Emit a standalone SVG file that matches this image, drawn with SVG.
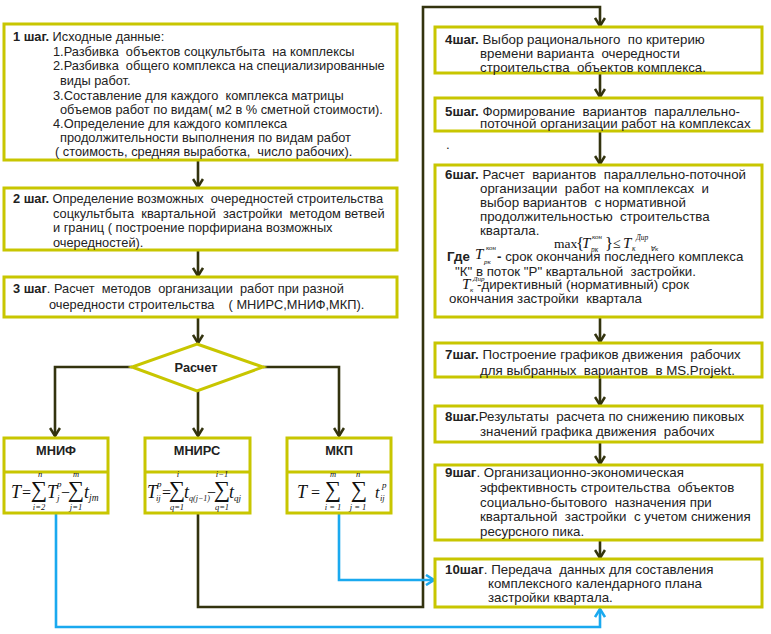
<svg xmlns="http://www.w3.org/2000/svg" width="771" height="634" viewBox="0 0 771 634">
<defs>
<style>
.box{fill:#fff;stroke:#c8c600;stroke-width:3}
.t{font-family:"Liberation Sans",Arial,sans-serif;font-size:12.8px;fill:#222;white-space:pre}
.r{font-size:13.3px}
.b{font-weight:bold}
.f{font-family:"Liberation Serif","Times New Roman",serif;fill:#111;font-style:italic}
.fs{font-family:"Liberation Serif","Times New Roman",serif;fill:#111}
.sum{font-family:"Liberation Serif","Times New Roman",serif;fill:#111;font-size:23px;text-anchor:middle}
.lim{font-family:"Liberation Serif","Times New Roman",serif;fill:#111;font-style:italic;font-size:8.5px;text-anchor:middle}
.dk{fill:none;stroke:#33330f;stroke-width:2.6}
.bl{fill:none;stroke:#1aa9ef;stroke-width:2.6}
</style>
<marker id="ad" viewBox="0 0 12 12" refX="10" refY="6" markerWidth="12" markerHeight="12" markerUnits="userSpaceOnUse" orient="auto">
<path d="M2,1 L10,6 L2,11" fill="none" stroke="#33330f" stroke-width="2.6"/>
</marker>
<marker id="ab" viewBox="0 0 12 12" refX="10" refY="6" markerWidth="12" markerHeight="12" markerUnits="userSpaceOnUse" orient="auto">
<path d="M2,1 L10,6 L2,11" fill="none" stroke="#1aa9ef" stroke-width="2.6"/>
</marker>
</defs>
<rect width="771" height="634" fill="#fff"/>

<g id="connectors">
<line class="dk" x1="198" y1="160" x2="198" y2="187" marker-end="url(#ad)"/>
<line class="dk" x1="198" y1="250" x2="198" y2="276" marker-end="url(#ad)"/>
<line class="dk" x1="198" y1="317" x2="198" y2="343" marker-end="url(#ad)"/>
<polyline class="dk" points="132,367 55,367 55,436" marker-end="url(#ad)"/>
<line class="dk" x1="198" y1="391" x2="198" y2="436" marker-end="url(#ad)"/>
<polyline class="dk" points="263,367 339,367 339,436" marker-end="url(#ad)"/>
<polyline class="dk" points="198,513 198,607 423,607 423,7 600,7 600,26" marker-end="url(#ad)"/>
<line class="dk" x1="600" y1="73" x2="600" y2="97" marker-end="url(#ad)"/>
<line class="dk" x1="600" y1="131" x2="600" y2="164" marker-end="url(#ad)"/>
<line class="dk" x1="600" y1="317" x2="600" y2="342" marker-end="url(#ad)"/>
<line class="dk" x1="600" y1="377" x2="600" y2="405" marker-end="url(#ad)"/>
<line class="dk" x1="600" y1="442" x2="600" y2="464" marker-end="url(#ad)"/>
<line class="dk" x1="600" y1="540" x2="600" y2="558" marker-end="url(#ad)"/>
<polyline class="bl" points="56,513 56,627 600,627 600,609" marker-end="url(#ab)"/>
<polyline class="bl" points="339,513 339,580 434,580" marker-end="url(#ab)"/>
</g>

<g id="step1">
<rect class="box" x="4" y="24" width="393" height="136"/>
<text class="t" x="13" y="40.5"><tspan class="b">1 шаг.</tspan> Исходные данные:</text>
<text class="t" x="53" y="56">1.Разбивка  объектов соцкультбыта  на комплексы</text>
<text class="t" x="53" y="70">2.Разбивка  общего комплекса на специализированные</text>
<text class="t" x="60" y="85">виды работ.</text>
<text class="t" x="53" y="99.5">3.Составление для каждого  комплекса матрицы</text>
<text class="t" x="60" y="114">объемов работ по видам( м2 в % сметной стоимости).</text>
<text class="t" x="53" y="128">4.Определение для каждого комплекса</text>
<text class="t" x="60" y="142">продолжительности выполнения по видам работ</text>
<text class="t" x="55" y="156">( стоимость, средняя выработка,  число рабочих).</text>
</g>

<g id="step2">
<rect class="box" x="4" y="188" width="393" height="62"/>
<text class="t" x="13" y="202.5"><tspan class="b">2 шаг.</tspan> Определение возможных  очередностей строительства</text>
<text class="t" x="53" y="217.5">соцкультбыта  квартальной  застройки  методом ветвей</text>
<text class="t" x="53" y="232">и границ ( построение порфириана возможных</text>
<text class="t" x="53" y="246.5">очередностей).</text>
</g>

<g id="step3">
<rect class="box" x="4" y="277" width="393" height="40"/>
<text class="t" x="13" y="292.5"><tspan class="b">3 шаг</tspan>. Расчет  методов  организации  работ при разной</text>
<text class="t" x="49" y="308.5">очередности строительства    ( МНИРС,МНИФ,МКП).</text>
</g>

<g id="decision">
<polygon points="197,344 263,367 197,391 132,367" fill="#fff" stroke="#c8c600" stroke-width="3"/>
<text class="t b" x="196" y="372" text-anchor="middle">Расчет</text>
</g>

<g id="mnif">
<rect class="box" x="4" y="438" width="104" height="75"/>
<line x1="4" y1="472" x2="108" y2="472" stroke="#c8c600" stroke-width="3"/>
<text class="t b" x="56" y="455" text-anchor="middle">МНИФ</text>
<text class="f" x="11" y="498" font-size="18">T</text>
<text class="fs" x="22" y="498" font-size="16">=</text>
<text class="sum" x="39" y="497">∑</text>
<text class="lim" x="40" y="477">n</text>
<text class="lim" x="39" y="510">i=2</text>
<text class="f" x="47" y="498" font-size="18">T</text>
<text class="f" x="57" y="487" font-size="9">p</text>
<text class="f" x="57" y="501" font-size="9">j</text>
<text class="fs" x="61" y="498" font-size="16">−</text>
<text class="sum" x="76" y="497">∑</text>
<text class="lim" x="76" y="477">m</text>
<text class="lim" x="76" y="510">j=1</text>
<text class="f" x="84" y="498" font-size="18">t</text>
<text class="f" x="89" y="501" font-size="9.5">jm</text>
</g>

<g id="mnirs">
<rect class="box" x="145" y="438" width="105" height="75"/>
<line x1="145" y1="472" x2="250" y2="472" stroke="#c8c600" stroke-width="3"/>
<text class="t b" x="197" y="455" text-anchor="middle">МНИРС</text>
<text class="f" x="147" y="498" font-size="18">T</text>
<text class="f" x="157" y="487" font-size="9">p</text>
<text class="f" x="156" y="501" font-size="8.5">ij</text>
<text class="fs" x="162" y="498" font-size="16">=</text>
<text class="sum" x="177" y="497">∑</text>
<text class="lim" x="178" y="477">i</text>
<text class="lim" x="177" y="510">q=1</text>
<text class="f" x="184" y="498" font-size="18">t</text>
<text class="f" x="189" y="501" font-size="8">q(j−1)</text>
<text class="fs" x="207" y="498" font-size="16">−</text>
<text class="sum" x="222" y="497">∑</text>
<text class="lim" x="222" y="477">i−1</text>
<text class="lim" x="222" y="510">q=1</text>
<text class="f" x="229" y="498" font-size="18">t</text>
<text class="f" x="234" y="501" font-size="9">qj</text>
</g>

<g id="mkp">
<rect class="box" x="287" y="438" width="104" height="75"/>
<line x1="287" y1="472" x2="391" y2="472" stroke="#c8c600" stroke-width="3"/>
<text class="t b" x="339" y="455" text-anchor="middle">МКП</text>
<text class="f" x="297" y="498" font-size="18">T</text>
<text class="fs" x="311" y="498" font-size="16">=</text>
<text class="sum" x="333" y="497">∑</text>
<text class="lim" x="333" y="477">m</text>
<text class="lim" x="333" y="510">i = 1</text>
<text class="sum" x="359" y="497">∑</text>
<text class="lim" x="358" y="477">n</text>
<text class="lim" x="358" y="510">j = 1</text>
<text class="f" x="375" y="498" font-size="16">t</text>
<text class="f" x="382" y="488" font-size="9">p</text>
<text class="f" x="380" y="501" font-size="8.5">ij</text>
</g>

<g id="step4">
<rect class="box" x="435" y="27" width="327" height="46"/>
<text class="t r" x="445" y="44"><tspan class="b">4шаг.</tspan> Выбор рационального  по критерию</text>
<text class="t r" x="480" y="58">времени варианта  очередности</text>
<text class="t r" x="480" y="71.5">строительства  объектов комплекса.</text>
</g>

<g id="step5">
<rect class="box" x="435" y="98" width="327" height="33"/>
<text class="t r" x="445" y="115.5"><tspan class="b">5шаг.</tspan> Формирование  вариантов  параллельно-</text>
<text class="t r" x="480" y="127.5">поточной организации работ на комплексах</text>
<text class="t r" x="446" y="149">.</text>
</g>

<g id="step6">
<rect class="box" x="435" y="165" width="327" height="152"/>
<text class="t r" x="445" y="179"><tspan class="b">6шаг.</tspan> Расчет  вариантов  параллельно-поточной</text>
<text class="t r" x="480" y="193">организации  работ на комплексах  и</text>
<text class="t r" x="480" y="207">выбор вариантов  с нормативной</text>
<text class="t r" x="480" y="221">продолжительностью  строительства</text>
<text class="t r" x="480" y="235">квартала.</text>
<text class="fs" x="554" y="248" font-size="13.5">max</text>
<text class="fs" x="576" y="249" font-size="17">{</text>
<text class="f" x="582" y="248" font-size="15">T</text>
<text class="f" x="591" y="252" font-size="7.5">pк</text>
<text class="f" x="592" y="239" font-size="7">кон</text>
<text class="fs" x="605" y="249" font-size="17">}</text>
<text class="fs" x="613" y="248" font-size="14">≤</text>
<text class="f" x="623" y="248" font-size="15">T</text>
<text class="f" x="632" y="251" font-size="7.5">к</text>
<text class="f" x="636" y="240" font-size="7.5">Дир</text>
<text class="f" x="650" y="251" font-size="7">∀к</text>
<text class="t r b" x="447" y="261">Где</text>
<text class="f" x="475" y="259" font-size="15">T</text>
<text class="f" x="484" y="264" font-size="7">pк</text>
<text class="f" x="486" y="250" font-size="7">кон</text>
<text class="t r" x="497" y="261"><tspan class="b">-</tspan> срок окончания последнего комплекса</text>
<text class="t r" x="455" y="275.5">"К" в поток "Р" квартальной  застройки.</text>
<text class="f" x="462" y="289" font-size="15">T</text>
<text class="f" x="470" y="292" font-size="7">к</text>
<text class="f" x="473" y="281" font-size="7">Дир</text>
<text class="t r" x="477" y="289">-директивный (нормативный) срок</text>
<text class="t r" x="449" y="303">окончания застройки  квартала</text>
</g>

<g id="step7">
<rect class="box" x="435" y="343" width="327" height="34"/>
<text class="t r" x="445" y="359"><tspan class="b">7шаг.</tspan> Построение графиков движения  рабочих</text>
<text class="t r" x="480" y="375">для выбранных  вариантов  в MS.Projekt.</text>
</g>

<g id="step8">
<rect class="box" x="435" y="406" width="327" height="36"/>
<text class="t r" x="445" y="421"><tspan class="b">8шаг.</tspan>Результаты  расчета по снижению пиковых</text>
<text class="t r" x="480" y="436">значений графика движения  рабочих</text>
</g>

<g id="step9">
<rect class="box" x="435" y="465" width="327" height="75"/>
<text class="t r" x="445" y="477"><tspan class="b">9шаг</tspan>. Организационно-экономическая</text>
<text class="t r" x="480" y="491.5">эффективность строительства  объектов</text>
<text class="t r" x="480" y="506.5">социально-бытового  назначения при</text>
<text class="t r" x="480" y="521">квартальной  застройки  с учетом снижения</text>
<text class="t r" x="480" y="535.5">ресурсного пика.</text>
</g>

<g id="step10">
<rect class="box" x="435" y="559" width="327" height="48"/>
<text class="t r" x="445" y="573.5"><tspan class="b">10шаг</tspan>. Передача  данных для составления</text>
<text class="t r" x="488" y="587.5">комплексного календарного плана</text>
<text class="t r" x="488" y="601.5">застройки квартала.</text>
</g>
</svg>
